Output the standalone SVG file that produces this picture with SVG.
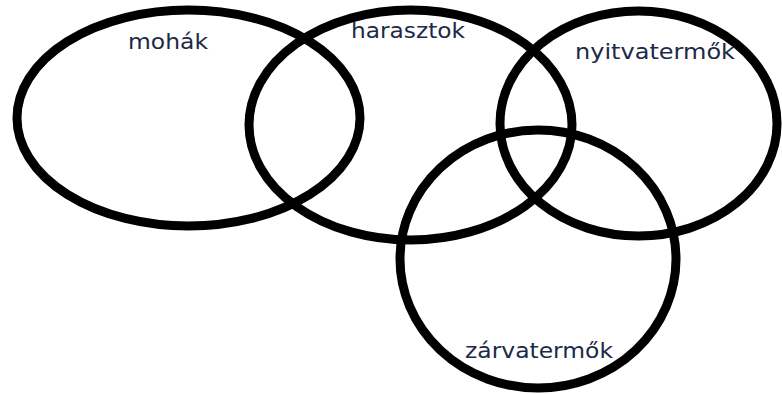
<svg xmlns="http://www.w3.org/2000/svg" width="782" height="394" viewBox="0 0 782 394">
<style>
.set{fill:none;stroke:#000;stroke-width:9}
.lbl{font-family:"DejaVu Sans","Noto Sans",sans-serif;font-size:22px;fill:#1c2a48}
</style>
<rect width="782" height="394" fill="#fff"/>
<g id="connectors"/>
<g id="mohak"><ellipse class="set" cx="188.5" cy="118" rx="171.5" ry="108"/><text class="lbl" x="128" y="49" textLength="80" lengthAdjust="spacingAndGlyphs">mohák</text></g>
<g id="harasztok"><ellipse class="set" cx="410.5" cy="125" rx="161.5" ry="115"/><text class="lbl" x="351" y="38" textLength="114" lengthAdjust="spacingAndGlyphs">harasztok</text></g>
<g id="nyitvatermok"><ellipse class="set" cx="638.5" cy="123.5" rx="138.5" ry="112.5"/><text class="lbl" x="575" y="59" textLength="160" lengthAdjust="spacingAndGlyphs">nyitvatermők</text></g>
<g id="zarvatermok"><ellipse class="set" cx="538" cy="259" rx="138" ry="129"/><text class="lbl" x="465" y="358" textLength="148" lengthAdjust="spacingAndGlyphs">zárvatermők</text></g>
</svg>
